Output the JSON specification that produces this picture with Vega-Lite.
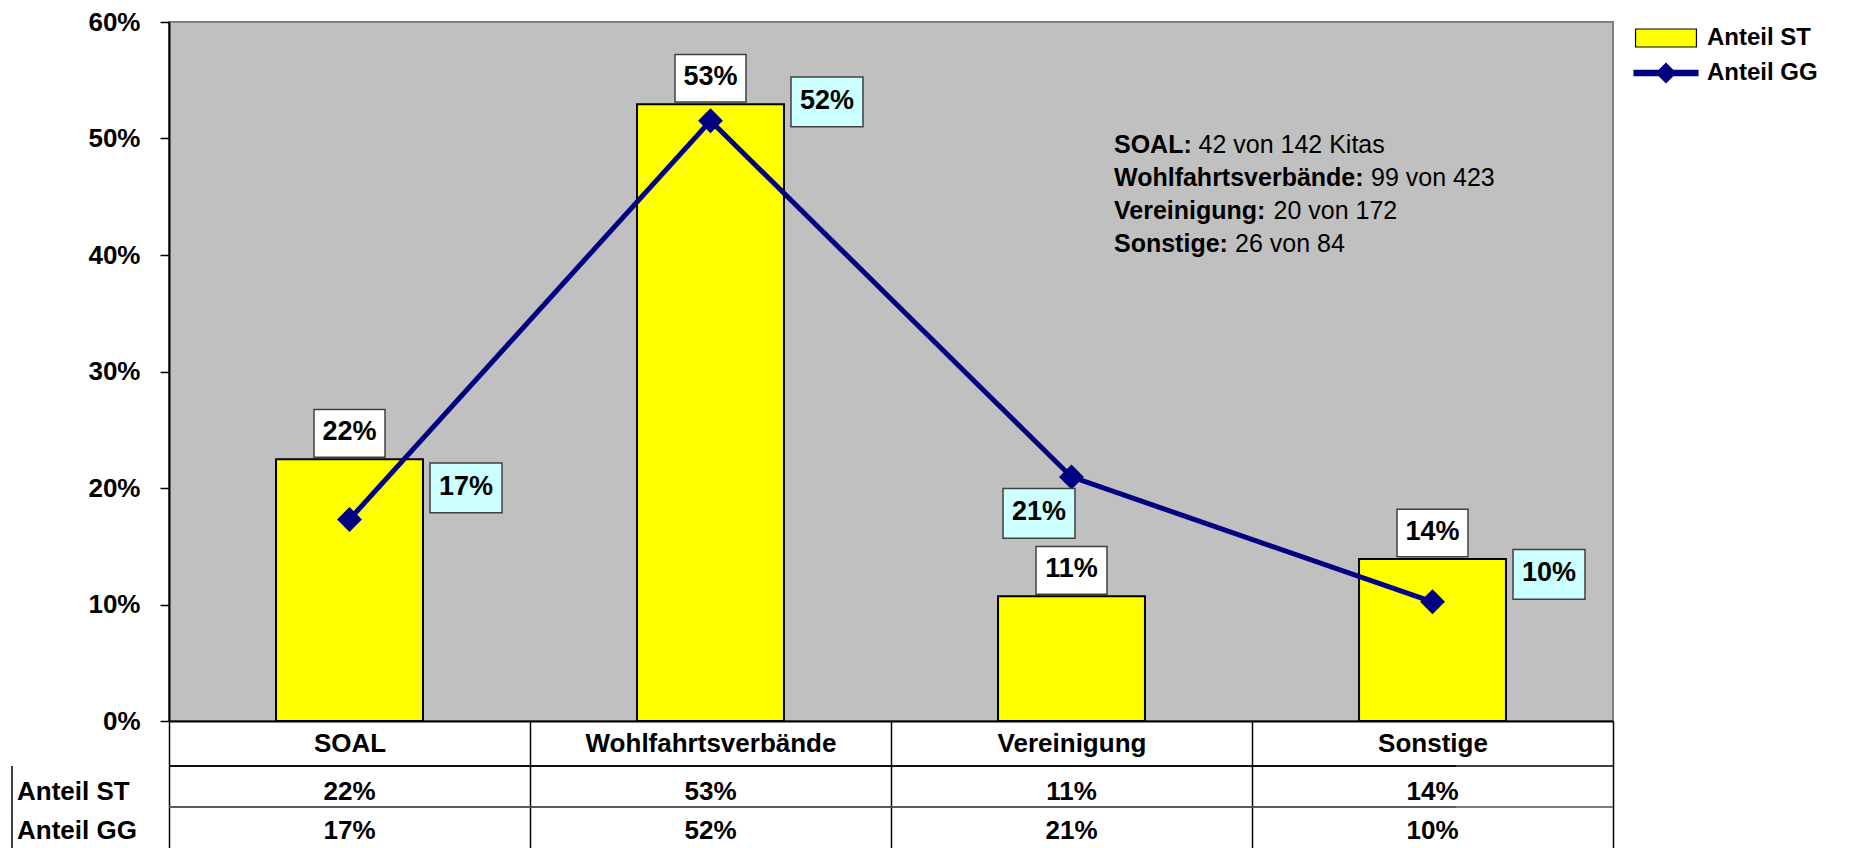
{
  "$schema": "https://vega.github.io/schema/vega-lite/v6.json",
  "width": 1444,
  "height": 699,
  "autosize": {"type": "none"},
  "padding": {"left": 169, "top": 22, "right": 246, "bottom": 127},
  "background": "#FFFFFF",
  "config": {
    "view": {"fill": "#C0C0C0", "stroke": "#808080", "strokeWidth": 2},
    "font": "Liberation Sans",
    "text": {"font": "Liberation Sans", "color": "#000000"}
  },
  "datasets": {
    "shares": [
      {"cat": "SOAL", "series": "Anteil ST", "value": 0.2246},
      {"cat": "Wohlfahrtsverbände", "series": "Anteil ST", "value": 0.5294},
      {"cat": "Vereinigung", "series": "Anteil ST", "value": 0.107},
      {"cat": "Sonstige", "series": "Anteil ST", "value": 0.139},
      {"cat": "SOAL", "series": "Anteil GG", "value": 0.173},
      {"cat": "Wohlfahrtsverbände", "series": "Anteil GG", "value": 0.5152},
      {"cat": "Vereinigung", "series": "Anteil GG", "value": 0.2095},
      {"cat": "Sonstige", "series": "Anteil GG", "value": 0.1023}
    ],
    "notes": [
      {"key": "SOAL", "bold": "SOAL:", "text": "42 von 142 Kitas"},
      {"key": "W", "bold": "Wohlfahrtsverbände:", "text": "99 von 423"},
      {"key": "V", "bold": "Vereinigung:", "text": "20 von 172"},
      {"key": "S", "bold": "Sonstige:", "text": "26 von 84"}
    ]
  },
  "layer": [
    {
      "data": {"name": "shares"},
      "transform": [{"filter": "datum.series == 'Anteil ST'"}],
      "mark": {"type": "bar", "fill": "#FFFF00", "stroke": "#000000", "strokeWidth": 2, "width": {"band": 0.407}},
      "encoding": {
        "x": {
          "field": "cat", "type": "nominal",
          "scale": {"domain": ["SOAL", "Wohlfahrtsverbände", "Vereinigung", "Sonstige"], "paddingInner": 0, "paddingOuter": 0},
          "axis": {
            "title": null, "labelFont": "Liberation Sans", "labelFontWeight": "bold", "labelFontSize": 26,
            "labelColor": "#000000", "labelAngle": 0, "labelPadding": -105, "labelBaseline": "middle",
            "labelLimit": 0, "labelOverlap": false, "tickBand": "extent", "tickSize": 127,
            "tickColor": "#000000", "tickWidth": 1.5, "domainColor": "#000000", "domainWidth": 2, "grid": false
          }
        },
        "y": {
          "field": "value", "type": "quantitative",
          "scale": {"domain": [0, 0.6], "nice": false, "zero": false},
          "axis": {
            "title": null, "values": [0, 0.1, 0.2, 0.3, 0.4, 0.5, 0.6], "format": ".0%",
            "labelFont": "Liberation Sans", "labelFontWeight": "bold", "labelFontSize": 26, "labelColor": "#000000",
            "tickSize": 9, "tickColor": "#000000", "tickWidth": 1.5, "labelPadding": 20,
            "domainColor": "#000000", "domainWidth": 2, "grid": false
          }
        }
      }
    },
    {
      "data": {"name": "shares"},
      "transform": [{"filter": "datum.series == 'Anteil GG'"}],
      "mark": {"type": "line", "color": "#000080", "strokeWidth": 5},
      "encoding": {
        "x": {"field": "cat", "type": "nominal"},
        "y": {"field": "value", "type": "quantitative"}
      }
    },
    {
      "data": {"name": "shares"},
      "transform": [{"filter": "datum.series == 'Anteil GG'"}],
      "mark": {"type": "point", "shape": "diamond", "filled": true, "size": 620, "color": "#000080", "opacity": 1},
      "encoding": {
        "x": {"field": "cat", "type": "nominal"},
        "y": {"field": "value", "type": "quantitative"}
      }
    },
    {
      "data": {"name": "shares"},
      "transform": [{"filter": "datum.series == 'Anteil ST'"}],
      "mark": {"type": "point", "shape": "M-1,-0.67H1V0.67H-1Z", "size": 5041, "filled": true, "fill": "#FFFFFF", "stroke": "#404040", "strokeWidth": 1.5, "opacity": 1, "yOffset": -26},
      "encoding": {
        "x": {"field": "cat", "type": "nominal"},
        "y": {"field": "value", "type": "quantitative"}
      }
    },
    {
      "data": {"name": "shares"},
      "transform": [{"filter": "datum.series == 'Anteil ST'"}],
      "mark": {"type": "text", "fontSize": 27, "fontWeight": "bold", "baseline": "middle", "align": "center", "yOffset": -27},
      "encoding": {
        "x": {"field": "cat", "type": "nominal"},
        "y": {"field": "value", "type": "quantitative"},
        "text": {"field": "value", "type": "quantitative", "format": ".0%"}
      }
    },
    {
      "data": {"name": "shares"},
      "transform": [{"filter": "datum.series == 'Anteil GG'"}],
      "mark": {
        "type": "point", "shape": "M-1,-0.69H1V0.69H-1Z", "size": 5184, "filled": true, "fill": "#CCFFFF",
        "stroke": "#404040", "strokeWidth": 1.5, "opacity": 1,
        "xOffset": {"expr": "datum.cat == 'Vereinigung' ? -32.5 : 116.5"},
        "yOffset": {"expr": "datum.cat == 'SOAL' ? -31.5 : datum.cat == 'Wohlfahrtsverbände' ? -19 : datum.cat == 'Vereinigung' ? 36.5 : -27.5"}
      },
      "encoding": {
        "x": {"field": "cat", "type": "nominal"},
        "y": {"field": "value", "type": "quantitative"}
      }
    },
    {
      "data": {"name": "shares"},
      "transform": [{"filter": "datum.series == 'Anteil GG'"}],
      "mark": {
        "type": "text", "fontSize": 27, "fontWeight": "bold", "baseline": "middle", "align": "center",
        "xOffset": {"expr": "datum.cat == 'Vereinigung' ? -32.5 : 116.5"},
        "yOffset": {"expr": "datum.cat == 'SOAL' ? -32.5 : datum.cat == 'Wohlfahrtsverbände' ? -20 : datum.cat == 'Vereinigung' ? 35.5 : -28.5"}
      },
      "encoding": {
        "x": {"field": "cat", "type": "nominal"},
        "y": {"field": "value", "type": "quantitative"},
        "text": {"field": "value", "type": "quantitative", "format": ".0%"}
      }
    },
    {
      "data": {"name": "notes"},
      "transform": [{"filter": "datum.key == 'SOAL'"}],
      "mark": {"type": "text", "align": "left", "baseline": "middle", "fontSize": 25, "fontWeight": "bold", "dx": 42.5},
      "encoding": {"x": {"datum": "Vereinigung", "type": "nominal"}, "y": {"datum": 0.4944, "type": "quantitative"}, "text": {"field": "bold"}}
    },
    {
      "data": {"name": "notes"},
      "transform": [{"filter": "datum.key == 'SOAL'"}],
      "mark": {"type": "text", "align": "left", "baseline": "middle", "fontSize": 25, "fontWeight": "normal", "dx": 127},
      "encoding": {"x": {"datum": "Vereinigung", "type": "nominal"}, "y": {"datum": 0.4944, "type": "quantitative"}, "text": {"field": "text"}}
    },
    {
      "data": {"name": "notes"},
      "transform": [{"filter": "datum.key == 'W'"}],
      "mark": {"type": "text", "align": "left", "baseline": "middle", "fontSize": 25, "fontWeight": "bold", "dx": 42.5},
      "encoding": {"x": {"datum": "Vereinigung", "type": "nominal"}, "y": {"datum": 0.4661, "type": "quantitative"}, "text": {"field": "bold"}}
    },
    {
      "data": {"name": "notes"},
      "transform": [{"filter": "datum.key == 'W'"}],
      "mark": {"type": "text", "align": "left", "baseline": "middle", "fontSize": 25, "fontWeight": "normal", "dx": 299.5},
      "encoding": {"x": {"datum": "Vereinigung", "type": "nominal"}, "y": {"datum": 0.4661, "type": "quantitative"}, "text": {"field": "text"}}
    },
    {
      "data": {"name": "notes"},
      "transform": [{"filter": "datum.key == 'V'"}],
      "mark": {"type": "text", "align": "left", "baseline": "middle", "fontSize": 25, "fontWeight": "bold", "dx": 42.5},
      "encoding": {"x": {"datum": "Vereinigung", "type": "nominal"}, "y": {"datum": 0.4378, "type": "quantitative"}, "text": {"field": "bold"}}
    },
    {
      "data": {"name": "notes"},
      "transform": [{"filter": "datum.key == 'V'"}],
      "mark": {"type": "text", "align": "left", "baseline": "middle", "fontSize": 25, "fontWeight": "normal", "dx": 202},
      "encoding": {"x": {"datum": "Vereinigung", "type": "nominal"}, "y": {"datum": 0.4378, "type": "quantitative"}, "text": {"field": "text"}}
    },
    {
      "data": {"name": "notes"},
      "transform": [{"filter": "datum.key == 'S'"}],
      "mark": {"type": "text", "align": "left", "baseline": "middle", "fontSize": 25, "fontWeight": "bold", "dx": 42.5},
      "encoding": {"x": {"datum": "Vereinigung", "type": "nominal"}, "y": {"datum": 0.4094, "type": "quantitative"}, "text": {"field": "bold"}}
    },
    {
      "data": {"name": "notes"},
      "transform": [{"filter": "datum.key == 'S'"}],
      "mark": {"type": "text", "align": "left", "baseline": "middle", "fontSize": 25, "fontWeight": "normal", "dx": 163.5},
      "encoding": {"x": {"datum": "Vereinigung", "type": "nominal"}, "y": {"datum": 0.4094, "type": "quantitative"}, "text": {"field": "text"}}
    },
    {
      "data": {"name": "shares"},
      "transform": [{"filter": "datum.series == 'Anteil ST'"}],
      "mark": {"type": "text", "fontSize": 26, "fontWeight": "bold", "baseline": "middle", "align": "center"},
      "encoding": {
        "x": {"field": "cat", "type": "nominal"},
        "y": {"datum": -0.0613, "type": "quantitative"},
        "text": {"field": "value", "type": "quantitative", "format": ".0%"}
      }
    },
    {
      "data": {"name": "shares"},
      "transform": [{"filter": "datum.series == 'Anteil GG'"}],
      "mark": {"type": "text", "fontSize": 26, "fontWeight": "bold", "baseline": "middle", "align": "center"},
      "encoding": {
        "x": {"field": "cat", "type": "nominal"},
        "y": {"datum": -0.0947, "type": "quantitative"},
        "text": {"field": "value", "type": "quantitative", "format": ".0%"}
      }
    },
    {
      "data": {"values": [{"row": "Anteil ST"}]},
      "mark": {"type": "text", "align": "left", "baseline": "middle", "fontSize": 26, "fontWeight": "bold", "dx": -332.5},
      "encoding": {"x": {"datum": "SOAL", "type": "nominal"}, "y": {"datum": -0.0613, "type": "quantitative"}, "text": {"field": "row"}}
    },
    {
      "data": {"values": [{"row": "Anteil GG"}]},
      "mark": {"type": "text", "align": "left", "baseline": "middle", "fontSize": 26, "fontWeight": "bold", "dx": -332.5},
      "encoding": {"x": {"datum": "SOAL", "type": "nominal"}, "y": {"datum": -0.0947, "type": "quantitative"}, "text": {"field": "row"}}
    },
    {
      "data": {"values": [{}]},
      "mark": {"type": "rule", "color": "#000000", "strokeWidth": 1.5},
      "encoding": {"y": {"datum": -0.0386, "type": "quantitative"}}
    },
    {
      "data": {"values": [{}]},
      "mark": {"type": "rule", "color": "#000000", "strokeWidth": 1.5, "xOffset": -157},
      "encoding": {"y": {"datum": -0.0386, "type": "quantitative"}}
    },
    {
      "data": {"values": [{}]},
      "mark": {"type": "rule", "color": "#505050", "strokeWidth": 1.5},
      "encoding": {"y": {"datum": -0.0738, "type": "quantitative"}}
    },
    {
      "data": {"values": [{}]},
      "mark": {"type": "rule", "color": "#505050", "strokeWidth": 1.5, "xOffset": -157},
      "encoding": {"y": {"datum": -0.0738, "type": "quantitative"}}
    },
    {
      "data": {"values": [{}]},
      "mark": {"type": "rule", "color": "#000000", "strokeWidth": 1.5, "xOffset": -337.5},
      "encoding": {
        "x": {"datum": "SOAL", "type": "nominal"},
        "y": {"datum": -0.0386, "type": "quantitative"},
        "y2": {"datum": -0.109}
      }
    },
    {
      "data": {"values": [{"series": "Anteil ST"}, {"series": "Anteil GG"}]},
      "mark": {"type": "point", "filled": true, "opacity": 1, "size": 900, "strokeWidth": 1.2, "clip": true},
      "encoding": {
        "x": {"datum": "SOAL", "type": "nominal"},
        "y": {"datum": 2, "type": "quantitative"},
        "shape": {
          "field": "series", "type": "nominal",
          "scale": {"domain": ["Anteil ST", "Anteil GG"], "range": ["M-2.03,-0.6H2.03V0.6H-2.03Z", "M-2.13,-0.17H-0.48L0,-0.65L0.48,-0.17H2.13V0.17H0.48L0,0.65L-0.48,0.17H-2.13Z"]},
          "legend": {"orient": "none", "legendX": 1481, "legendY": 0, "title": null, "padding": 0, "labelFont": "Liberation Sans", "labelFontWeight": "bold", "labelFontSize": 24, "labelColor": "#000000", "labelOffset": 25, "rowPadding": 7, "symbolSize": 900, "symbolStrokeWidth": 1.2, "symbolOpacity": 1, "labelLimit": 0}
        },
        "fill": {
          "field": "series", "type": "nominal",
          "scale": {"domain": ["Anteil ST", "Anteil GG"], "range": ["#FFFF00", "#000080"]},
          "legend": {"orient": "none", "legendX": 1481, "legendY": 0, "title": null, "padding": 0, "labelFont": "Liberation Sans", "labelFontWeight": "bold", "labelFontSize": 24, "labelColor": "#000000", "labelOffset": 25, "rowPadding": 7, "symbolSize": 900, "symbolStrokeWidth": 1.2, "symbolOpacity": 1, "labelLimit": 0}
        },
        "stroke": {
          "field": "series", "type": "nominal",
          "scale": {"domain": ["Anteil ST", "Anteil GG"], "range": ["#000000", "#000080"]},
          "legend": {"orient": "none", "legendX": 1481, "legendY": 0, "title": null, "padding": 0, "labelFont": "Liberation Sans", "labelFontWeight": "bold", "labelFontSize": 24, "labelColor": "#000000", "labelOffset": 25, "rowPadding": 7, "symbolSize": 900, "symbolStrokeWidth": 1.2, "symbolOpacity": 1, "labelLimit": 0}
        }
      }
    }
  ]
}
